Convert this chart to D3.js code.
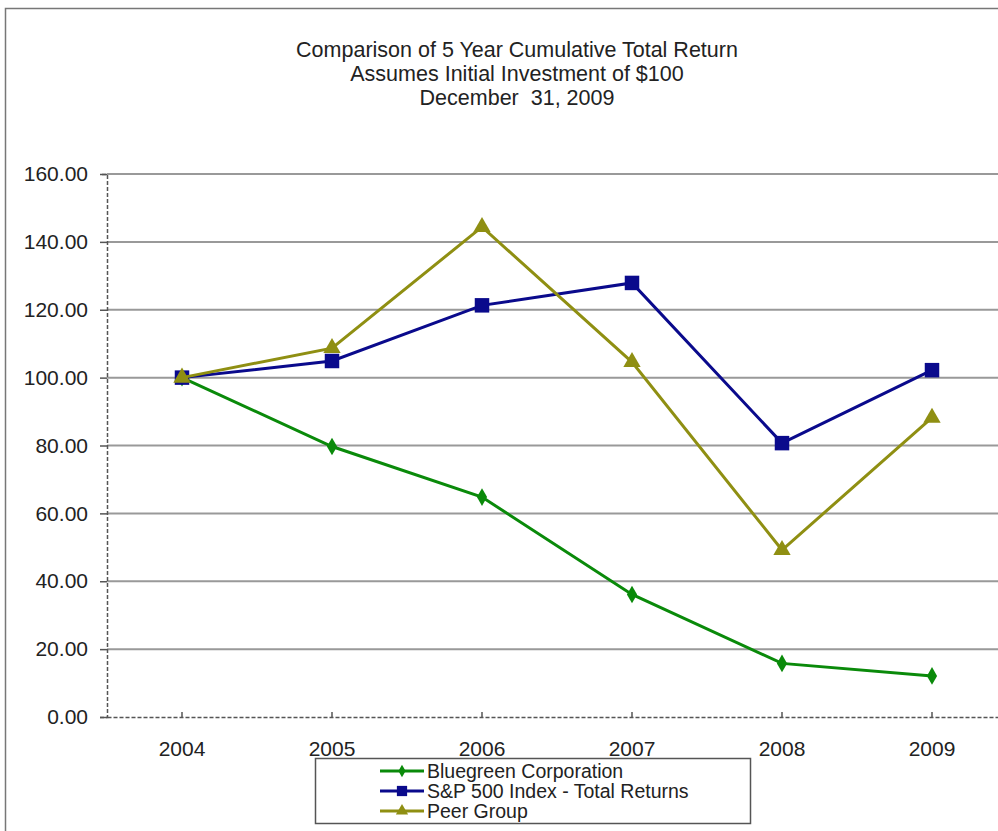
<!DOCTYPE html>
<html>
<head>
<meta charset="utf-8">
<script src="https://cdn.jsdelivr.net/npm/d3@7"></script>
<style>
    body { margin: 0; background: #fff; }
    svg text { font-family: "Liberation Sans", Arial, sans-serif; fill: #222; }
</style>
</head>
<body>
<svg id="chart"></svg>
<script>
const years = ['2004', '2005', '2006', '2007', '2008', '2009'];
const bluegreen = [100, 79.7, 64.8, 36.1, 15.8, 12.1];
const sp500 = [100, 104.9, 121.3, 127.9, 80.7, 102.2];
const peerGroup = [100, 108.7, 144.4, 104.6, 49.2, 88.2];
const yTicks = [0, 20, 40, 60, 80, 100, 120, 140, 160];
const titleLines = ['Comparison of 5 Year Cumulative Total Return', 'Assumes Initial Investment of $100', 'December  31, 2009'];

const seriesList = [
    { name: 'Bluegreen Corporation', values: bluegreen, color: '#0a8a0a', marker: 'diamond' },
    { name: 'S&P 500 Index - Total Returns', values: sp500, color: '#0a0a8c', marker: 'square' },
    { name: 'Peer Group', values: peerGroup, color: '#8f8f12', marker: 'triangle' }
];

const width = 998;
const height = 831;
const margin = { top: 174, right: -9, bottom: 114, left: 107 };

const svg = d3.select('#chart')
    .attr('width', width)
    .attr('height', height);

// outer frame
svg.append('rect')
    .attr('x', 5.5).attr('y', 8.5)
    .attr('width', 1100).attr('height', 1000)
    .attr('fill', 'none')
    .attr('stroke', '#777')
    .attr('stroke-width', 1.5);

svg.selectAll('.title')
    .data(titleLines)
    .enter().append('text')
    .attr('class', 'title')
    .attr('x', 517)
    .attr('y', (d, i) => 57 + i * 24)
    .attr('text-anchor', 'middle')
    .attr('font-size', '21.5px')
    .style('white-space', 'pre')
    .text(d => d);

const xScale = d3.scaleBand()
    .domain(years)
    .range([margin.left, width - margin.right]);

const yScale = d3.scaleLinear()
    .domain([0, 160])
    .range([height - margin.bottom, margin.top]);

const xPos = d => xScale(d) + xScale.bandwidth() / 2;

// gridlines
svg.append('g')
    .selectAll('line')
    .data(yTicks.filter(t => t > 0))
    .enter().append('line')
    .attr('x1', margin.left)
    .attr('x2', width)
    .attr('y1', d => yScale(d))
    .attr('y2', d => yScale(d))
    .attr('stroke', '#999')
    .attr('stroke-width', 2);

// y axis
const yAxis = d3.axisLeft(yScale)
    .tickValues(yTicks)
    .tickFormat(d3.format('.2f'))
    .tickSize(7)
    .tickPadding(12);

const yG = svg.append('g')
    .attr('transform', `translate(${margin.left}, 0)`)
    .call(yAxis);
yG.select('.domain')
    .attr('stroke', '#555')
    .attr('stroke-width', 1.5)
    .attr('stroke-dasharray', '4,2');
yG.selectAll('.tick line').attr('stroke', '#555').attr('stroke-width', 1.5);
yG.selectAll('.tick text')
    .attr('font-size', '21px')
    .attr('fill', '#222')
    .attr('font-family', '"Liberation Sans", Arial, sans-serif');

// x axis
const xAxis = d3.axisBottom(xScale)
    .tickSize(-5)
    .tickSizeOuter(0)
    .tickPadding(24);

const xG = svg.append('g')
    .attr('transform', `translate(0, ${height - margin.bottom})`)
    .call(xAxis);
xG.select('.domain')
    .attr('stroke', '#555')
    .attr('stroke-width', 1.5)
    .attr('stroke-dasharray', '4,2');
xG.selectAll('.tick line').attr('stroke', '#555').attr('stroke-width', 1.5);
xG.selectAll('.tick text')
    .attr('font-size', '21px')
    .attr('fill', '#222')
    .attr('font-family', '"Liberation Sans", Arial, sans-serif');

function markerPath(type, size) {
    if (type === 'square') return d3.symbol(d3.symbolSquare, size)();
    if (type === 'triangle') return d3.symbol(d3.symbolTriangle, size)();
    return d3.symbol(d3.symbolDiamond, size)();
}
const markerSize = { square: 210, triangle: 130, diamond: 90 };

const line = d3.line()
    .x((d, i) => xPos(years[i]))
    .y(d => yScale(d));

seriesList.forEach(s => {
    svg.append('path')
        .datum(s.values)
        .attr('fill', 'none')
        .attr('stroke', s.color)
        .attr('stroke-width', 3)
        .attr('d', line);

    svg.append('g')
        .selectAll('path')
        .data(s.values)
        .enter().append('path')
        .attr('d', markerPath(s.marker, markerSize[s.marker]))
        .attr('transform', (d, i) => `translate(${xPos(years[i])}, ${yScale(d)})`)
        .attr('fill', s.color);
});

// legend
const legend = svg.append('g').attr('transform', 'translate(315, 758)');
legend.append('rect')
    .attr('x', 0.5).attr('y', 0.5)
    .attr('width', 435).attr('height', 65)
    .attr('fill', '#fff')
    .attr('stroke', '#555')
    .attr('stroke-width', 1.5);

seriesList.forEach((s, i) => {
    const row = legend.append('g').attr('transform', `translate(0, ${13 + i * 20})`);
    row.append('line')
        .attr('x1', 65).attr('x2', 109)
        .attr('y1', 0).attr('y2', 0)
        .attr('stroke', s.color)
        .attr('stroke-width', 3);
    row.append('path')
        .attr('d', markerPath(s.marker, markerSize[s.marker] * 0.5))
        .attr('transform', 'translate(87, 0)')
        .attr('fill', s.color);
    row.append('text')
        .attr('x', 112)
        .attr('y', 7)
        .attr('font-size', '19.5px')
        .text(s.name);
});
</script>
</body>
</html>
